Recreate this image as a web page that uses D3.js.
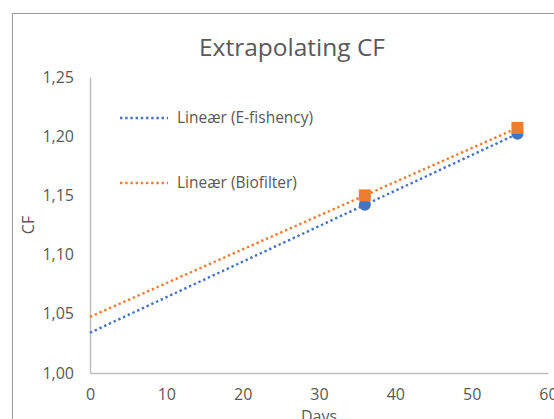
<!DOCTYPE html>
<html>
<head>
<meta charset="utf-8">
<script src="https://cdn.jsdelivr.net/npm/d3@7"></script>
<style>
  body { margin: 0; background: #fff; }
  svg { display: block; font-family: "Open Sans", sans-serif; }
</style>
</head>
<body>
<div id="chart"></div>
<script>
const width = 554,
    height = 419;

// values
const days = [36, 56];
const eFishency = [1.142, 1.202];
const biofilter = [1.150, 1.207];
const seriesNames = ["Lineær (E-fishency)", "Lineær (Biofilter)"];
const xTicks = [0, 10, 20, 30, 40, 50, 60];
const yTicks = [1.00, 1.05, 1.10, 1.15, 1.20, 1.25];
const trendFrom = 0;

const blue = "#4472C4", orange = "#ED7D31", grey = "#595959";
const font = "'Open Sans', sans-serif";

const margin = { left: 90, right: 6, top: 77, bottom: 46 };

const svg = d3.select("#chart")
    .append("svg")
    .attr("width", width)
    .attr("height", height);

// chart border (cropped on right and bottom)
svg.append("rect")
    .attr("x", 12.5).attr("y", 13.5)
    .attr("width", 600).attr("height", 500)
    .attr("fill", "none")
    .attr("stroke", "#9a9a9a")
    .attr("stroke-width", 1);

const x = d3.scaleLinear().domain([0, 60]).range([margin.left, width - margin.right]);
const y = d3.scaleLinear().domain([1.00, 1.25]).range([height - margin.bottom, margin.top]);

// linear regression for the trendlines
function linreg(xs, ys) {
    const mx = d3.mean(xs), my = d3.mean(ys);
    const slope = d3.sum(xs, (v, i) => (v - mx) * (ys[i] - my)) / d3.sum(xs, v => (v - mx) * (v - mx));
    return { slope, intercept: my - slope * mx };
}

const fmt = d => d3.format(".2f")(d).replace(".", ",");

// axes
const xAxis = svg.append("g")
    .attr("transform", `translate(0, ${y(1.00)})`)
    .call(d3.axisBottom(x).tickValues(xTicks).tickSize(0).tickPadding(17));
const yAxis = svg.append("g")
    .attr("transform", `translate(${x(0)}, 0)`)
    .call(d3.axisLeft(y).tickValues(yTicks).tickFormat(fmt).tickSize(0).tickPadding(16));

[xAxis, yAxis].forEach(a => {
    a.select(".domain").attr("stroke", "#bfbfbf").attr("stroke-width", 1.5);
    a.selectAll("text").attr("fill", grey).style("font-size", "16px").style("font-family", font);
});
xAxis.selectAll("text").attr("dy", "0.65em");

// trendlines
const series = [
    { name: seriesNames[0], values: eFishency, color: blue },
    { name: seriesNames[1], values: biofilter, color: orange }
];

const line = d3.line().x(d => x(d[0])).y(d => y(d[1]));

series.forEach(s => {
    const r = linreg(days, s.values);
    const xEnd = d3.max(days);
    svg.append("path")
        .attr("d", line([[trendFrom, r.intercept + r.slope * trendFrom], [xEnd, r.intercept + r.slope * xEnd]]))
        .attr("fill", "none")
        .attr("stroke", s.color)
        .attr("stroke-width", 2.4)
        .attr("stroke-dasharray", "2.4,2.8");
});

// markers
svg.selectAll(".dot")
    .data(days.map((d, i) => [d, eFishency[i]]))
    .join("circle")
    .attr("cx", d => x(d[0]))
    .attr("cy", d => y(d[1]))
    .attr("r", 6)
    .attr("fill", blue);

svg.selectAll(".sq")
    .data(days.map((d, i) => [d, biofilter[i]]))
    .join("rect")
    .attr("x", d => x(d[0]) - 6)
    .attr("y", d => y(d[1]) - 6)
    .attr("width", 12)
    .attr("height", 12)
    .attr("fill", orange);

// legend
const legend = svg.selectAll(".legend")
    .data(series)
    .join("g")
    .attr("transform", (d, i) => `translate(120, ${118 + i * 65})`);

legend.append("line")
    .attr("x1", 0).attr("x2", 48)
    .attr("stroke", d => d.color)
    .attr("stroke-width", 2.4)
    .attr("stroke-dasharray", "2.4,2.8");

legend.append("text")
    .attr("x", 57)
    .attr("dy", "0.35em")
    .attr("fill", grey)
    .style("font-size", "15.5px")
    .text(d => d.name);

// titles
svg.append("text")
    .attr("x", 292).attr("y", 56)
    .attr("text-anchor", "middle")
    .attr("fill", grey)
    .style("font-size", "24.5px")
    .text("Extrapolating CF");

svg.append("text")
    .attr("transform", `translate(34, ${(y(1.00) + y(1.25)) / 2}) rotate(-90)`)
    .attr("text-anchor", "middle")
    .attr("fill", grey)
    .style("font-size", "16px")
    .text("CF");

svg.append("text")
    .attr("x", (x(0) + x(60)) / 2).attr("y", 422)
    .attr("text-anchor", "middle")
    .attr("fill", grey)
    .style("font-size", "16px")
    .text("Days");
</script>
</body>
</html>
